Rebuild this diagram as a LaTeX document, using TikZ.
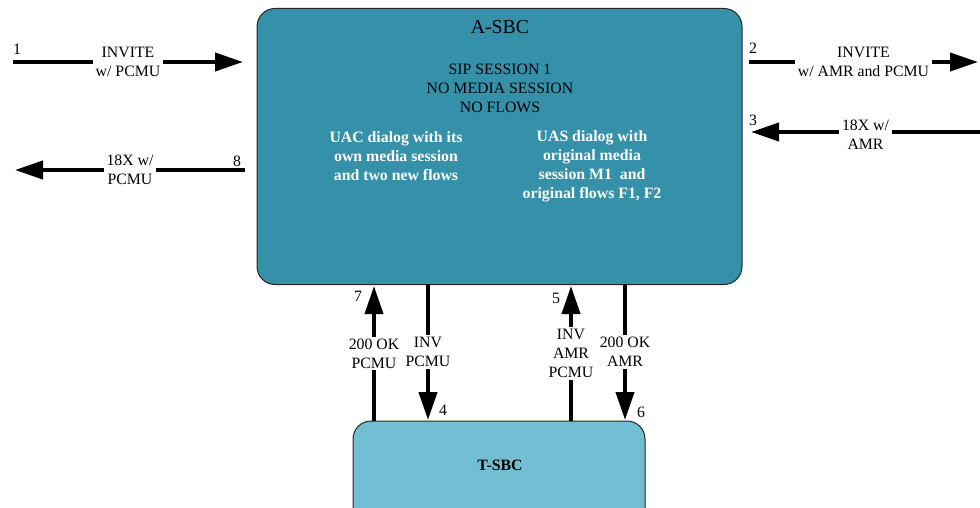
\documentclass[tikz,border=0pt]{standalone}
\usepackage{fontspec}
\setmainfont{Liberation Serif}
\usetikzlibrary{arrows.meta}
\definecolor{asbcfill}{RGB}{53,145,169}
\definecolor{tsbcfill}{RGB}{114,191,211}
\begin{document}
\begin{tikzpicture}[x=1pt,y=-1pt,
 box/.style={draw=black!85, line width=1pt, rounded corners=18pt, inner sep=0pt},
 msg/.style={line width=4pt, -{Triangle[length=28pt,width=18pt]}},
 lbl/.style={fill=white, inner xsep=3pt, inner ysep=2pt, align=center, font=\fontsize{15.8}{19}\selectfont},
 num/.style={inner sep=0pt, font=\fontsize{15.8}{19}\selectfont},
 txt/.style={inner sep=0pt, align=center, font=\fontsize{15.8}{19}\selectfont},
 btxt/.style={inner sep=0pt, align=center, font=\bfseries\fontsize{15.8}{19}\selectfont},
]
\clip (0,0) rectangle (980,508);
\fill[white] (0,0) rectangle (980,508);
% boxes
\node[box, fill=asbcfill, minimum width=485pt, minimum height=276pt] (asbc) at (499.5,146.5) {};
\node[box, fill=tsbcfill, minimum width=292pt, minimum height=120pt] (tsbc) at (499,481) {};
% texts in boxes
\node[txt, font=\fontsize{19.8}{23}\selectfont] (title) at (500,27) {A-SBC};
\node[txt] (sip) at (500,88) {SIP SESSION 1\\NO MEDIA SESSION\\NO FLOWS};
\node[btxt, text=white] (uac) at (396,156) {UAC dialog with its\\own media session\\and two new flows};
\node[btxt, text=white] (uas) at (592,166.5) {UAS dialog with\\original media\\session M1~ and\\original flows F1, F2};
\node[btxt] (tname) at (500,465) {T-SBC};
% horizontal messages
\coordinate (a1s) at (13,62);  \coordinate (a1e) at (243,62);
\coordinate (a2s) at (749,62); \coordinate (a2e) at (978,62);
\coordinate (a3s) at (980,132); \coordinate (a3e) at (751,132);
\coordinate (a8s) at (245,170); \coordinate (a8e) at (15,170);
\draw[msg] (a1s) -- node[lbl] (l1) {INVITE\\w/ PCMU} (a1e);
\draw[msg] (a2s) -- node[lbl] (l2) {INVITE\\w/ AMR and PCMU} (a2e);
\draw[msg] (a3s) -- node[lbl, yshift=-3pt] (l3) {18X w/\\AMR} (a3e);
\draw[msg] (a8s) -- node[lbl] (l8) {18X w/\\PCMU} (a8e);
% vertical messages
\coordinate (v7s) at (374,421); \coordinate (v7e) at (374,286);
\coordinate (v4s) at (428,284); \coordinate (v4e) at (428,420);
\coordinate (v5s) at (571,421); \coordinate (v5e) at (571,286);
\coordinate (v6s) at (625,284); \coordinate (v6e) at (625,420);
\draw[msg] (v7s) -- node[lbl] (l7) {200 OK\\PCMU} (v7e);
\draw[msg] (v4s) -- node[lbl] (l4) {INV\\PCMU} (v4e);
\draw[msg] (v5s) -- node[lbl] (l5) {INV\\AMR\\PCMU} (v5e);
\draw[msg] (v6s) -- node[lbl] (l6) {200 OK\\AMR} (v6e);
% numbers
\node[num] (n1) at (17,49) {1};
\node[num] (n2) at (753,48) {2};
\node[num] (n3) at (753,120) {3};
\node[num] (n8) at (237,161) {8};
\node[num] (n7) at (358,296) {7};
\node[num] (n4) at (443,410) {4};
\node[num] (n5) at (556,298) {5};
\node[num] (n6) at (641,412) {6};
\end{tikzpicture}
\end{document}
